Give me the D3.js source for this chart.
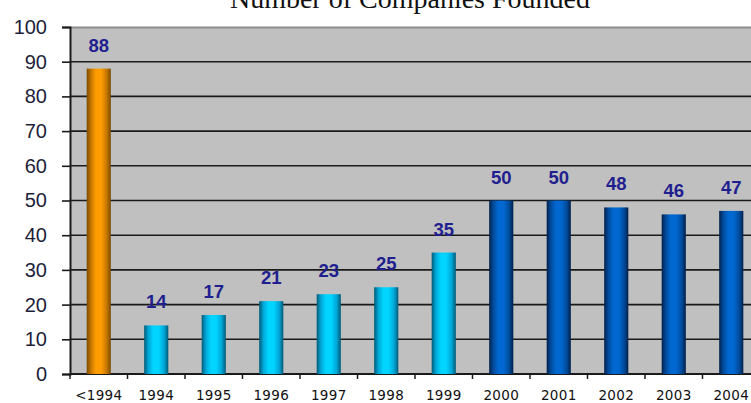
<!DOCTYPE html>
<html>
<head>
<meta charset="utf-8">
<script src="https://cdn.jsdelivr.net/npm/d3@7/dist/d3.min.js"></script>
<style>
  html, body { margin: 0; padding: 0; background: #fff; }
  svg { display: block; }
</style>
</head>
<body>
<svg id="chart" width="751" height="403"></svg>
<script>
// Companies founded per year
const categories = ["<1994", "1994", "1995", "1996", "1997", "1998", "1999", "2000", "2001", "2002", "2003", "2004"];
const founded = [88, 14, 17, 21, 23, 25, 35, 50, 50, 48, 46, 47];
const yTicks = [0, 10, 20, 30, 40, 50, 60, 70, 80, 90, 100];
// colour group for each bar: before 1994, 1994-1999, 2000 onwards
const groups = ["early", "mid", "mid", "mid", "mid", "mid", "mid", "late", "late", "late", "late", "late"];

const svg = d3.select("#chart");
const plot = { left: 70, right: 760, top: 27, bottom: 374 };

const x = d3.scaleBand().domain(categories).range([plot.left, plot.right]).paddingInner(0.58).paddingOuter(0.29);
const xEdges = d3.scaleBand().domain(categories).range([plot.left, plot.right]).padding(0);
const y = d3.scaleLinear().domain([0, 100]).range([plot.bottom, plot.top]);

// cylinder-style shading for each colour group
const palettes = {
  early: { dark: "#7a4a00", mid: "#c77800", bright: "#ff9c00" },
  mid:   { dark: "#005a78", mid: "#00a8d8", bright: "#00d4ff" },
  late:  { dark: "#00204a", mid: "#004c9e", bright: "#0068d0" }
};
const defs = svg.append("defs");
Object.entries(palettes).forEach(([key, p]) => {
  const g = defs.append("linearGradient").attr("id", "grad-" + key)
    .attr("x1", "0%").attr("x2", "100%").attr("y1", "0%").attr("y2", "0%");
  [[0, p.dark], [0.18, p.mid], [0.38, p.bright], [0.6, p.bright], [0.82, p.mid], [1, p.dark]]
    .forEach(([o, c]) => g.append("stop").attr("offset", o).attr("stop-color", c));
});

// title
svg.append("text")
  .attr("x", 590).attr("y", 8)
  .attr("text-anchor", "end")
  .attr("font-family", "'Liberation Serif', 'Times New Roman', serif")
  .attr("font-size", 28)
  .attr("fill", "#111")
  .text("Number of Companies Founded");

// plot background
svg.append("rect")
  .attr("x", plot.left).attr("y", plot.top)
  .attr("width", plot.right - plot.left).attr("height", plot.bottom - plot.top)
  .attr("fill", "#c0c0c0");

// top border
svg.append("line")
  .attr("x1", plot.left).attr("x2", plot.right)
  .attr("y1", plot.top + 0.5).attr("y2", plot.top + 0.5)
  .attr("stroke", "#8c8c8c").attr("stroke-width", 2);

// horizontal gridlines
svg.append("g").selectAll("line")
  .data(yTicks.filter(t => t > 0 && t < 100))
  .join("line")
  .attr("x1", plot.left).attr("x2", plot.right)
  .attr("y1", d => y(d)).attr("y2", d => y(d))
  .attr("stroke", "#1a1a1a").attr("stroke-width", 1.6);

// y axis
const yAxis = svg.append("g")
  .attr("transform", `translate(${plot.left},0)`)
  .call(d3.axisLeft(y).tickValues(yTicks).tickSize(8).tickPadding(15));
yAxis.select(".domain").attr("stroke", "#1a1a1a").attr("stroke-width", 2);
yAxis.selectAll(".tick line").attr("stroke", "#1a1a1a").attr("stroke-width", 1.6);
yAxis.selectAll(".tick text")
  .attr("font-family", "'Liberation Sans', Arial, sans-serif")
  .attr("font-size", 20)
  .attr("fill", "#1e1e3a");

// x axis line and ticks at band edges
svg.append("line")
  .attr("x1", plot.left).attr("x2", plot.right)
  .attr("y1", plot.bottom).attr("y2", plot.bottom)
  .attr("stroke", "#1a1a1a").attr("stroke-width", 2);
svg.append("g").selectAll("line")
  .data(categories)
  .join("line")
  .attr("x1", d => xEdges(d)).attr("x2", d => xEdges(d))
  .attr("y1", plot.bottom).attr("y2", plot.bottom + 5)
  .attr("stroke", "#1a1a1a").attr("stroke-width", 1.5);

// x labels
svg.append("g").selectAll("text")
  .data(categories)
  .join("text")
  .attr("x", d => x(d) + x.bandwidth() / 2)
  .attr("y", 400)
  .attr("text-anchor", "middle")
  .attr("font-family", "'DejaVu Sans', Verdana, sans-serif")
  .attr("font-size", 13.5)
  .attr("letter-spacing", 0.3)
  .attr("fill", "#111")
  .text(d => d);

// bars
svg.append("g").selectAll("rect")
  .data(categories)
  .join("rect")
  .attr("x", d => x(d))
  .attr("width", x.bandwidth())
  .attr("y", (d, i) => y(founded[i]))
  .attr("height", (d, i) => y(0) - y(founded[i]))
  .attr("fill", (d, i) => `url(#grad-${groups[i]})`);

// value labels
svg.append("g").selectAll("text")
  .data(categories)
  .join("text")
  .attr("x", d => x(d) + x.bandwidth() / 2)
  .attr("y", (d, i) => y(founded[i]) - 17)
  .attr("text-anchor", "middle")
  .attr("font-family", "'Liberation Sans', Arial, sans-serif")
  .attr("font-weight", "bold")
  .attr("font-size", 18.5)
  .attr("fill", "#1f1f8f")
  .text((d, i) => founded[i]);
</script>
</body>
</html>
